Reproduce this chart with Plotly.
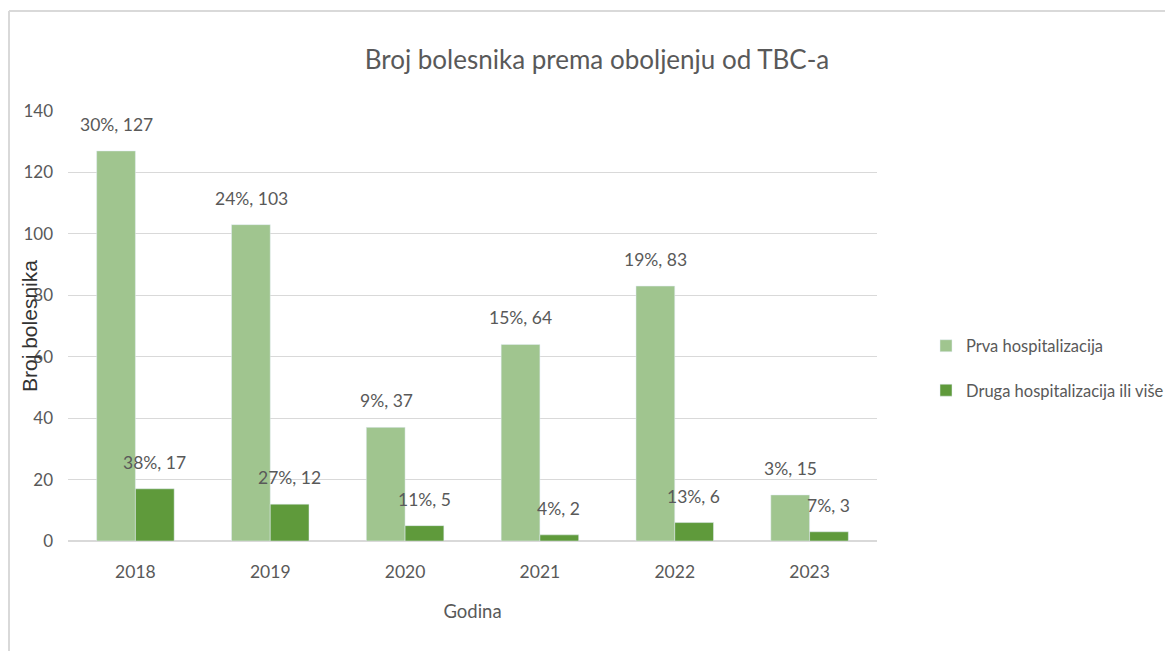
import plotly.graph_objects as go

years = ["2018", "2019", "2020", "2021", "2022", "2023"]
prva = [127, 103, 37, 64, 83, 15]
prva_pct = ["30%", "24%", "9%", "15%", "19%", "3%"]
druga = [17, 12, 5, 2, 6, 3]
druga_pct = ["38%", "27%", "11%", "4%", "13%", "7%"]

series_names = ["Prva hospitalizacija", "Druga hospitalizacija ili više"]
colors = ["#A0C58F", "#5F9A3B"]
FONT = "Lato"
GRAY = "#595959"
OFF = 8  # page body margin offset

fig = go.Figure()
fig.add_trace(go.Bar(x=years, y=prva, name=series_names[0], marker_color=colors[0],
                     legendgroup="a"))
fig.add_trace(go.Bar(x=years, y=druga, name=series_names[1], marker_color=colors[1],
                     legendgroup="b"))

annotations = []
for i, (v, p) in enumerate(zip(prva, prva_pct)):
    annotations.append(dict(x=i, y=v, text=f"{p}, {v}", xref="x", yref="y",
                            showarrow=False, yanchor="bottom", xshift=-19, yshift=14,
                            font=dict(family=FONT, size=17.5, color=GRAY)))
for i, (v, p) in enumerate(zip(druga, druga_pct)):
    annotations.append(dict(x=i, y=v, text=f"{p}, {v}", xref="x", yref="y",
                            showarrow=False, yanchor="bottom", xshift=19, yshift=14,
                            font=dict(family=FONT, size=17.5, color=GRAY)))

W, H = 1173 - OFF, 651 - OFF
PL, PR, PT, PB = 68, 877, 111, 541
pw, ph = PR - PL, PB - PT

# y-axis title placed as rotated text, overlapping tick labels as in the reference
annotations.append(dict(text="Broj bolesnika", xref="paper", yref="paper",
                        x=(29 - PL) / pw, y=0.5, xanchor="center", yanchor="middle",
                        textangle=-90, showarrow=False,
                        font=dict(family="Liberation Sans", size=21, color="#333333")))

fig.update_layout(
    width=W, height=H,
    margin=dict(l=PL - OFF, r=W - (PR - OFF), t=PT - OFF, b=H - (PB - OFF), autoexpand=False),
    paper_bgcolor="white", plot_bgcolor="white",
    barmode="group", bargap=0.425, bargroupgap=0,
    title=dict(text="Broj bolesnika prema oboljenju od TBC-a", x=(597 - OFF) / W, xanchor="center",
               y=1 - (60 - OFF) / H, yanchor="middle",
               font=dict(family=FONT, size=26, color=GRAY)),
    xaxis=dict(type="category",
               title=dict(text="Godina", font=dict(family=FONT, size=18.5, color=GRAY), standoff=24),
               tickfont=dict(family=FONT, size=17.5, color=GRAY), showline=False,
               ticks="", showgrid=False, automargin=False, ticklabelstandoff=18),
    yaxis=dict(range=[0, 140], dtick=20, tickfont=dict(family=FONT, size=17, color=GRAY),
               showgrid=True, gridcolor="#D9D9D9", gridwidth=1, zeroline=True,
               zerolinecolor="#D9D9D9", zerolinewidth=1.5, ticklabelstandoff=14,
               automargin=False),
    legend=dict(x=(926 - PL) / pw, y=(PB - 368) / ph, xanchor="left", yanchor="middle",
                font=dict(family=FONT, size=16.5, color=GRAY), tracegroupgap=20),
    annotations=annotations,
    showlegend=True,
)

ytop = (PB - 11) / ph
xleft = ((OFF + 1) - PL) / pw
fig.add_shape(type="line", xref="paper", yref="paper", x0=xleft, x1=1.5, y0=ytop, y1=ytop,
              line=dict(color="#D9D9D9", width=2))
fig.add_shape(type="line", xref="paper", yref="paper", x0=xleft, x1=xleft, y0=ytop, y1=-0.3,
              line=dict(color="#D9D9D9", width=2))

fig.write_html("out.html")
